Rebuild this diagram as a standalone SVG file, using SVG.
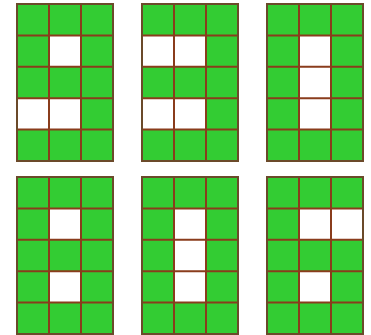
<svg xmlns="http://www.w3.org/2000/svg" width="371" height="335" viewBox="0 0 371 335">
<defs>
<style>
.g{fill:#33cc33}
.w{fill:#ffffff}
.ln{stroke:#8a3c1c;stroke-width:2;fill:none}
.bd{stroke:#6b4a2a;stroke-width:2;fill:none}
</style>
<g id="grid">
<rect class="g" x="0" y="0" width="96" height="157"/>
</g>
<g id="lines">
<path class="ln" d="M32,0V157M64,0V157M0,31.4H96M0,62.8H96M0,94.2H96M0,125.6H96"/>
<rect class="bd" x="0" y="0" width="96" height="157"/>
</g>
</defs>
<rect width="371" height="335" fill="#ffffff"/>
<g id="n1" transform="translate(17,4)">
<use href="#grid"/>
<rect class="w" x="32" y="31.4" width="32" height="31.4"/>
<rect class="w" x="0" y="94.2" width="64" height="31.4"/>
<use href="#lines"/>
</g>
<g id="n2" transform="translate(142,4)">
<use href="#grid"/>
<rect class="w" x="0" y="31.4" width="64" height="31.4"/>
<rect class="w" x="0" y="94.2" width="64" height="31.4"/>
<use href="#lines"/>
</g>
<g id="n3" transform="translate(267,4)">
<use href="#grid"/>
<rect class="w" x="32" y="31.4" width="32" height="94.2"/>
<use href="#lines"/>
</g>
<g id="n4" transform="translate(17,177)">
<use href="#grid"/>
<rect class="w" x="32" y="31.4" width="32" height="31.4"/>
<rect class="w" x="32" y="94.2" width="32" height="31.4"/>
<use href="#lines"/>
</g>
<g id="n5" transform="translate(142,177)">
<use href="#grid"/>
<rect class="w" x="32" y="31.4" width="32" height="94.2"/>
<use href="#lines"/>
</g>
<g id="n6" transform="translate(267,177)">
<use href="#grid"/>
<rect class="w" x="32" y="31.4" width="64" height="31.4"/>
<rect class="w" x="32" y="94.2" width="32" height="31.4"/>
<use href="#lines"/>
</g>
<g id="connectors"/>
</svg>
